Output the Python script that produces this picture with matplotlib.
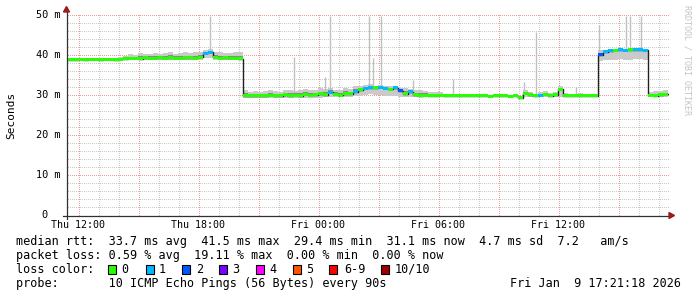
import numpy as np
import matplotlib
matplotlib.use("Agg")
import matplotlib.pyplot as plt
from matplotlib.lines import Line2D
from matplotlib.patches import Polygon, Rectangle
import matplotlib.transforms as mtrans

# ---------------- data ----------------
# time in hours since Thu 00:00, 15 minute steps starting Thu 11:30
t_first = 11.5
t_step = 0.25
median_ms = [
    39.0, 39.0,
    39.1, 39.0, 39.1, 39.1, 39.0, 39.1, 39.1, 39.0, 39.1, 39.2,
    39.3, 39.3, 39.2, 39.4, 39.3, 39.3, 39.4, 39.3, 39.5, 39.3, 39.3, 39.4, 39.4, 39.3, 39.6,
    40.6, 40.8, 39.6,
    39.3, 39.4, 39.3, 39.3, 39.2,
    30.0, 29.9, 30.0, 30.0, 29.9, 30.1, 30.0, 30.0, 30.2, 30.0, 30.1, 30.0, 30.3, 30.1, 30.2, 30.4,
    30.2, 30.8, 30.3, 30.1, 30.5, 30.4,
    31.0, 31.5, 31.8, 32.0, 31.9, 32.1, 31.8, 31.6, 31.9,
    31.2, 30.5, 30.9,
    30.2, 30.0, 30.1, 29.9, 30.0, 30.1,
    30.0, 29.9, 29.9, 29.9, 30.0, 29.9, 29.9, 29.9, 29.9, 29.8, 29.9, 29.9, 29.9, 29.8, 29.9, 29.5,
    30.6, 30.2, 30.0, 30.1, 30.3, 30.0, 30.2, 31.6, 30.0,
    29.9, 29.9, 29.9, 29.9, 29.9, 29.9,
    40.2, 40.9, 41.2, 41.3, 41.4, 41.3, 41.4, 41.4, 41.5, 41.3,
    30.1, 30.0, 30.2, 30.3,
]
smoke_hi_ms = [
    39.3, 39.3,
    39.4, 39.3, 39.4, 39.4, 39.3, 39.4, 39.5, 39.4, 39.6, 39.8,
    40.4, 40.2, 40.6, 40.3, 40.5, 40.7, 40.4, 40.6, 40.8, 40.5, 40.6, 40.9, 40.7, 40.8, 41.0,
    41.5, 41.6, 41.0,
    40.8, 40.6, 40.7, 40.9, 40.8,
    31.3, 31.0, 31.2, 30.8, 31.1, 31.4, 31.2, 31.0, 31.5, 31.3, 31.2, 31.4, 31.6, 31.3, 31.5, 31.8,
    31.6, 32.0, 31.5, 31.4, 31.8, 31.7,
    32.3, 32.5, 32.6, 32.8, 32.5, 32.7, 32.4, 32.3, 32.5,
    32.0, 31.8, 31.7,
    31.5, 31.3, 31.2, 30.9, 31.0, 30.8,
    30.5, 30.3, 30.2, 30.1, 30.4, 30.2, 30.1, 30.1, 30.2, 30.1, 30.1, 30.2, 30.1, 30.1, 30.2, 30.0,
    31.3, 30.8, 30.5, 30.9, 31.1, 30.6, 30.8, 32.3, 30.6,
    30.3, 30.2, 30.6, 30.1, 30.2, 30.2,
    41.4, 41.5, 41.6, 41.6, 41.7, 41.6, 41.7, 41.7, 41.8, 41.6,
    31.0, 31.2, 31.1, 31.3,
]
smoke_lo_ms = [
    38.8, 38.8,
    38.8, 38.8, 38.8, 38.8, 38.8, 38.8, 38.8, 38.8, 38.8, 38.8,
    38.8, 38.8, 38.8, 38.8, 38.8, 38.8, 38.8, 38.8, 38.8, 38.8, 38.8, 38.8, 38.8, 38.8, 38.8,
    39.3, 39.5, 38.9,
    38.8, 38.8, 38.8, 38.8, 38.8,
    29.5, 29.5, 29.5, 29.5, 29.5, 29.5, 29.5, 29.5, 29.5, 29.5, 29.5, 29.5, 29.5, 29.5, 29.5, 29.5,
    29.6, 29.6, 29.6, 29.6, 29.6, 29.6,
    29.9, 30.0, 30.2, 30.3, 30.1, 30.2, 30.0, 29.9, 29.8,
    29.6, 29.6, 29.6,
    29.6, 29.6, 29.6, 29.6, 29.6, 29.6,
    29.7, 29.7, 29.7, 29.7, 29.7, 29.7, 29.7, 29.7, 29.7, 29.7, 29.7, 29.7, 29.7, 29.7, 29.7, 29.3,
    29.6, 29.6, 29.6, 29.6, 29.6, 29.6, 29.6, 29.6, 29.6,
    29.7, 29.7, 29.7, 29.7, 29.7, 29.7,
    38.6, 38.8, 39.0, 39.0, 39.1, 39.0, 39.0, 39.2, 39.2, 39.0,
    29.6, 29.6, 29.6, 29.6,
]
loss_class = [
    0, 0,
    0, 0, 0, 0, 0, 0, 0, 0, 0, 0,
    0, 0, 0, 0, 0, 0, 0, 0, 0, 0, 0, 0, 0, 0, 0,
    1, 1, 0,
    0, 0, 0, 0, 0,
    0, 0, 0, 0, 0, 0, 0, 0, 0, 0, 0, 0, 0, 0, 0, 0,
    0, 1, 0, 0, 0, 0,
    1, 0, 1, 1, 0, 1, 1, 0, 1,
    2, 0, 1,
    0, 0, 0, 0, 0, 0,
    0, 0, 0, 0, 0, 0, 0, 0, 0, 0, 0, 0, 0, 0, 0, 0,
    0, 0, 0, 1, 0, 0, 0, 0, 0,
    0, 0, 0, 0, 0, 0,
    2, 1, 1, 0, 1, 1, 0, 1, 1, 1,
    0, 0, 0, 0,
]
spike_t = [18.58, 22.8, 24.33, 24.58, 26.55, 26.75, 27.16, 28.75, 29.98, 30.75,
           34.3, 34.92, 36.9, 38.05, 39.41, 39.61, 40.16]
spike_top_ms = [50, 39.6, 34.6, 50, 50, 39.3, 50, 33.8, 31.1, 34.2,
                33.4, 45.9, 32.2, 47.6, 50, 50, 50]

xtick_hours = [12, 18, 24, 30, 36]
xtick_labels = ["Thu 12:00", "Thu 18:00", "Fri 00:00", "Fri 06:00", "Fri 12:00"]
ytick_vals = [0, 10, 20, 30, 40, 50]
ytick_labels = ["0", "10 m", "20 m", "30 m", "40 m", "50 m"]

loss_colors = ["#26ff00", "#00b8ff", "#0059ff", "#7e00ff", "#ff00ff", "#ff5500", "#ff0000", "#a00000"]
loss_labels = ["0", "1", "2", "3", "4", "5", "6-9", "10/10"]

line1 = "median rtt:  33.7 ms avg  41.5 ms max  29.4 ms min  31.1 ms now  4.7 ms sd  7.2   am/s"
line2 = "packet loss: 0.59 % avg  19.11 % max  0.00 % min  0.00 % now"
line3 = "loss color:"
line4 = "probe:       10 ICMP Echo Pings (56 Bytes) every 90s"
stamp = "Fri Jan  9 17:21:18 2026"
watermark = "RRDTOOL / TOBI OETIKER"
ylabel = "Seconds"

# ---------------- figure ----------------
W, H = 697, 297
plt.rcParams["font.family"] = ["DejaVu Sans Mono"]
fig = plt.figure(figsize=(W / 100, H / 100), dpi=100)
fig.patch.set_facecolor("white")

def fx(px):
    return px / W

def fy(py):
    return 1 - py / H

ax_l, ax_r, ax_t, ax_b = 66.5, 668.5, 15.5, 215.5
ax = fig.add_axes([fx(ax_l), fy(ax_b), (ax_r - ax_l) / W, (ax_b - ax_t) / H])
ax.patch.set_visible(False)
ax.set_zorder(1)
x0, x1 = 11.42, 41.52
ax.set_xlim(x0, x1)
ax.set_ylim(0, 50)
for s in ax.spines.values():
    s.set_visible(False)
ax.set_xticks([])
ax.set_yticks([])

t = t_first + t_step * np.arange(len(median_ms))
med = np.array(median_ms, dtype=float)
hi = np.array(smoke_hi_ms, dtype=float)
lo = np.array(smoke_lo_ms, dtype=float)

# dotted grid, drawn as single-pixel markers
xa = ax.transData.transform([[x0, 0], [x1, 50]])
px_l, py_b = int(np.floor(xa[0, 0])), int(np.floor(xa[0, 1]))
px_r, py_t = int(np.floor(xa[1, 0])), int(np.floor(xa[1, 1]))
dots = {False: ([], []), True: ([], [])}
for h in range(12, 42):
    major = (h % 3 == 0)
    xp = int(np.floor(ax.transData.transform((h, 0))[0]))
    for yy in range(py_b, py_t + 1, 2):
        dots[major][0].append(xp + 0.5)
        dots[major][1].append(yy + 0.5)
for v in range(2, 51, 2):
    major = (v % 10 == 0)
    yp = int(np.floor(ax.transData.transform((x0, v))[1]))
    for xx in range(px_l + 1, px_r + 1, 2):
        dots[major][0].append(xx + 0.5)
        dots[major][1].append(yp + 0.5)
ident = mtrans.IdentityTransform()
fig.add_artist(Line2D(dots[False][0], dots[False][1], ls="none", marker=",",
                      color="#c9c9c9", transform=ident, zorder=0.5))
fig.add_artist(Line2D(dots[True][0], dots[True][1], ls="none", marker=",",
                      color="#f29a9a", transform=ident, zorder=0.6))

# smoke
te = np.append(t, t[-1] + t_step)
ax.fill_between(te, np.append(lo, lo[-1]), np.append(hi, hi[-1]), step="post",
                color="#cacaca", lw=0, zorder=1)
inner_hi = med + 0.4 * (hi - med)
inner_lo = med - 0.2
ax.fill_between(te, np.append(inner_lo, inner_lo[-1]), np.append(inner_hi, inner_hi[-1]),
                step="post", color="#8a8a8a", lw=0, zorder=1.2)

# spikes
idx = np.clip(np.searchsorted(t, spike_t, side="right") - 1, 0, len(t) - 1)
ax.vlines(spike_t, med[idx], spike_top_ms, color="#c0c0c0", lw=1.0, zorder=1.1)

# median line + loss coloured bars
ax.step(te, np.append(med, med[-1]), where="post", color="#202020", lw=1.0, zorder=2)
bar_cols = [loss_colors[c] for c in loss_class]
ax.bar(t, 0.75, bottom=med - 0.375, width=t_step, align="edge", color=bar_cols,
       lw=0, zorder=3)

# axes lines and arrows
axis_col = "#303030"
arrow_col = "#9b1c1c"
fig.add_artist(Line2D([fx(ax_l), fx(ax_l)], [fy(ax_b + 3), fy(10)], color=axis_col, lw=0.9, zorder=2))
fig.add_artist(Line2D([fx(ax_l - 4), fx(671)], [fy(ax_b), fy(ax_b)], color=axis_col, lw=0.9, zorder=2))
fig.add_artist(Polygon([[fx(63.5), fy(12)], [fx(69.5), fy(12)], [fx(66.5), fy(6.5)]],
                       closed=True, color=arrow_col, transform=fig.transFigure, zorder=2))
fig.add_artist(Polygon([[fx(669), fy(212.5)], [fx(669), fy(218.5)], [fx(674.5), fy(215.5)]],
                       closed=True, color=arrow_col, transform=fig.transFigure, zorder=2))

# tick labels
tr_x = mtrans.blended_transform_factory(ax.transData, fig.transFigure)
for h, lab in zip(xtick_hours, xtick_labels):
    ax.text(h, fy(224.7), lab, transform=tr_x, ha="center", va="center",
            fontsize=7.2, color="#000000", clip_on=False)
tr_y = mtrans.blended_transform_factory(fig.transFigure, ax.transData)
for v, lab in zip(ytick_vals, ytick_labels):
    xr = fx(60.5) if lab != "0" else fx(47.5)
    ax.text(xr, v, lab, transform=tr_y, ha="right", va="center", fontsize=7.4,
            color="#000000", clip_on=False)

fig.text(fx(11), fy(115), ylabel, rotation=90, ha="center", va="center",
         fontsize=8.0, color="#000000")
fig.text(fx(687.5), fy(60), watermark, rotation=270, ha="center", va="center",
         fontsize=6.0, color="#c4c4c4")

# legend block
fs = 8.5
fig.text(fx(15.5), fy(241.7), line1, ha="left", va="center", fontsize=fs)
fig.text(fx(15.5), fy(255.5), line2, ha="left", va="center", fontsize=fs)
fig.text(fx(15.5), fy(269.3), line3, ha="left", va="center", fontsize=fs)
fig.text(fx(15.5), fy(283.5), line4, ha="left", va="center", fontsize=fs)
fig.text(fx(681), fy(283.5), stamp, ha="right", va="center", fontsize=fs)

box_x = [108.3, 145.7, 182.3, 219.0, 256.0, 292.7, 329.3, 380.7]
lab_x = [121.7, 159.0, 195.7, 232.3, 269.7, 306.3, 344.0, 395.0]
for bx, lx, c, lab in zip(box_x, lab_x, loss_colors, loss_labels):
    fig.add_artist(Rectangle((fx(bx), fy(273.8)), 8 / W, 9 / H, facecolor=c,
                             edgecolor="#000000", lw=0.8, transform=fig.transFigure))
    fig.text(fx(lx), fy(269.3), lab, ha="left", va="center", fontsize=fs)

fig.savefig("out.png", dpi=100, facecolor="white")
